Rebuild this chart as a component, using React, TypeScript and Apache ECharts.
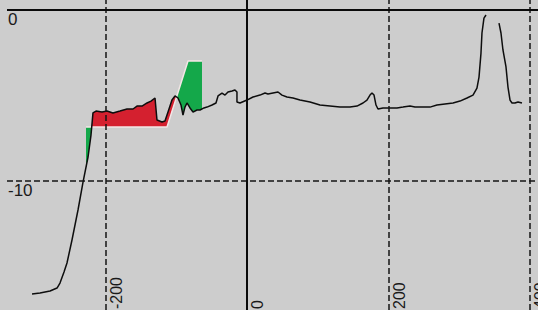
import React, { useEffect, useRef } from "react";
import * as echarts from "echarts";

// Trace (x value, y value); null marks the break at the top of the peak
const curveX = [
  -304.3, -293.0, -278.8, -268.9, -264.7, -259.0, -254.8, -247.7, -239.2, -232.1,
  -225.0, -220.8, -218.0, -213.7, -205.2, -198.2, -189.7, -179.8, -169.8, -161.3,
  -155.7, -148.6, -141.5, -135.9, -130.2, -127.4, -120.3, -116.1, -111.8, -106.2,
  -101.9, -97.7, -93.4, -90.6, -87.8, -84.9, -80.7, -76.4, -70.8, -66.5,
  -60.9, -56.6, -49.5, -43.9, -41.0, -35.4, -31.1, -26.9, -21.2, -17.0,
  -14.2, -14.2, -9.9, 0, 8.5, 18.4, 25.5, 29.7, 36.8, 43.9,
  49.5, 56.6, 65.1, 75.0, 89.2, 103.3, 117.5, 131.6, 145.8, 155.7,
  164.2, 169.8, 174.1, 176.9, 179.8, 182.6, 185.4, 192.5, 202.4, 212.3,
  220.8, 230.7, 237.8, 247.7, 259.0, 268.9, 280.2, 291.6, 301.5, 311.4,
  319.9, 325.5, 328.4, 331.2, 332.6, 335.4, 338.3, 347.0, 356.7, 359.5,
  362.3, 366.6, 369.4, 372.3, 375.1, 379.3, 383.6, 389.2,
];
const curveY: (number | null)[] = [
  -16.59, -16.53, -16.41, -16.24, -15.95, -15.31, -14.78, -13.44, -11.69, -10.06,
  -8.6, -7.32, -6.03, -5.92, -5.98, -5.92, -6.03, -5.92, -5.8, -5.8,
  -5.63, -5.63, -5.45, -5.34, -5.16, -6.44, -6.56, -6.5, -5.98, -5.28,
  -5.04, -5.16, -5.57, -6.15, -5.69, -5.45, -5.74, -5.98, -5.86, -5.86,
  -5.74, -5.69, -5.57, -5.45, -5.04, -4.87, -4.99, -4.81, -4.75, -4.69,
  -4.81, -5.39, -5.45, -5.28, -5.1, -4.99, -4.87, -4.93, -4.87, -4.81,
  -4.99, -5.1, -5.16, -5.28, -5.39, -5.57, -5.63, -5.69, -5.69, -5.63,
  -5.45, -5.28, -4.99, -4.87, -4.99, -5.57, -5.8, -5.74, -5.74, -5.74,
  -5.69, -5.63, -5.69, -5.69, -5.69, -5.57, -5.51, -5.45, -5.34, -5.16,
  -4.99, -4.58, -3.94, -2.54, -1.37, -0.5, -0.32, null, -0.79, -1.37,
  -2.36, -3.35, -4.52, -5.28, -5.45, -5.45, -5.39, -5.45,
];

// Reference (template) line
const refX = [-227.9, -113.2, -83.5, -63.7];
const refY = [-6.85, -6.85, -3.0, -3.0];

// Axes
const xLabelValues = [-200, 0, 200, 400];
const yLabelValues = [0, -10];
const xDashedGrid = [-200, 200, 400];
const yDashedGrid = [-10];
const xZeroLine = [0];
const yZeroLine = [0];

function interp(xs: number[], ys: (number | null)[], x: number): number | null {
  for (let i = 0; i < xs.length - 1; i++) {
    const y0 = ys[i];
    const y1 = ys[i + 1];
    if (y0 == null || y1 == null) continue;
    const x0 = xs[i];
    const x1 = xs[i + 1];
    if (x1 > x0 && x >= x0 && x <= x1) return y0 + ((y1 - y0) * (x - x0)) / (x1 - x0);
  }
  return null;
}

type Poly = { sign: number; pts: [number, number][] };

function buildPolys(): Poly[] {
  const xa = refX[0];
  const xb = refX[refX.length - 1];
  const set = new Set<number>(refX);
  curveX.forEach((x, i) => {
    if (curveY[i] != null && x > xa && x < xb) set.add(x);
  });
  const xs = Array.from(set).sort((a, b) => a - b);
  const polys: Poly[] = [];
  let top: [number, number][] = [];
  let bot: [number, number][] = [];
  let sign = 0;
  let prev: { x: number; d: number } | null = null;
  const close = () => {
    if (top.length > 1) polys.push({ sign, pts: [...top, ...bot.slice().reverse()] });
  };
  for (const x of xs) {
    const c = interp(curveX, curveY, x);
    const r = interp(refX, refY, x);
    if (c == null || r == null) continue;
    const d = c - r;
    const s = d > 0 ? 1 : d < 0 ? -1 : 0;
    if (prev && s !== 0 && sign !== 0 && s !== sign) {
      const xc = prev.x + ((x - prev.x) * prev.d) / (prev.d - d);
      const yc = interp(refX, refY, xc) as number;
      top.push([xc, yc]);
      bot.push([xc, yc]);
      close();
      top = [[xc, yc]];
      bot = [[xc, yc]];
    }
    top.push([x, c]);
    bot.push([x, r]);
    if (s !== 0) sign = s;
    prev = { x, d };
  }
  close();
  return polys;
}

export default function App() {
  const ref = useRef<HTMLDivElement>(null);
  useEffect(() => {
    if (!ref.current) return;
    const chart = echarts.init(ref.current, null, { renderer: "svg" });
    const polys = buildPolys();
    const dashed = { color: "#151515", width: 1.5, type: [6, 3] as any };
    const solid = { color: "#0a0a0a", width: 2, type: "solid" as any };
    chart.setOption({
      animation: false,
      backgroundColor: "#cdcdcd",
      grid: {
        left: 7,
        right: 0,
        top: 0,
        bottom: 0,
        containLabel: false,
        outerBoundsMode: "none",
      },
      xAxis: {
        type: "value",
        min: -339.7,
        max: 411.9,
        axisLine: { show: false },
        axisTick: { show: false },
        splitLine: { show: false },
        axisLabel: {
          customValues: xLabelValues,
          inside: true,
          rotate: 90,
          align: "left",
          verticalAlign: "top",
          margin: 1,
          padding: [3, 0, 0, 0],
          color: "#1a1a1a",
          fontSize: 16,
          fontFamily: "Liberation Sans, Arial, sans-serif",
          showMinLabel: true,
          showMaxLabel: true,
          hideOverlap: false,
        },
      },
      yAxis: {
        type: "value",
        min: -17.52,
        max: 0.554,
        axisLine: { show: false },
        axisTick: { show: false },
        splitLine: { show: false },
        axisLabel: {
          customValues: yLabelValues,
          inside: true,
          verticalAlign: "top",
          margin: 1,
          padding: [1, 0, 0, 0],
          color: "#1a1a1a",
          fontSize: 17,
          fontFamily: "Liberation Sans, Arial, sans-serif",
          showMinLabel: true,
          showMaxLabel: true,
        },
      },
      series: [
        {
          type: "custom",
          silent: true,
          z: 1,
          clip: true,
          encode: { x: 0, y: 1 },
          data: polys.map((p) => p.pts[0]),
          renderItem: (params: any, api: any) => {
            const p = polys[params.dataIndex];
            return {
              type: "polygon",
              shape: { points: p.pts.map((q) => api.coord(q)) },
              style: { fill: p.sign > 0 ? "#d4202f" : "#14a84a", stroke: "none" },
            };
          },
        },
        {
          type: "line",
          silent: true,
          z: 2,
          showSymbol: false,
          data: refX.map((x, i) => [x, refY[i]]),
          lineStyle: { color: "#f3e6e6", width: 1.5 },
        },
        {
          type: "line",
          silent: true,
          z: 3,
          showSymbol: false,
          data: [[refX[0], refY[0]]],
          lineStyle: { opacity: 0 },
          markLine: {
            silent: true,
            symbol: "none",
            label: { show: false },
            data: [
              ...xDashedGrid.map((v) => ({ xAxis: v, lineStyle: dashed })),
              ...yDashedGrid.map((v) => ({ yAxis: v, lineStyle: dashed })),
              ...xZeroLine.map((v) => ({ xAxis: v, lineStyle: solid })),
              ...yZeroLine.map((v) => ({ yAxis: v, lineStyle: solid })),
            ],
          },
        },
        {
          type: "line",
          silent: true,
          z: 4,
          showSymbol: false,
          connectNulls: false,
          data: curveX.map((x, i) => [x, curveY[i] == null ? "-" : curveY[i]]),
          lineStyle: { color: "#0d0d0d", width: 1.5 },
        },
      ],
    });
    return () => chart.dispose();
  }, []);
  return (
    <div
      ref={ref}
      style={{ position: "fixed", left: 0, top: 0, width: 538, height: 310 }}
    />
  );
}
